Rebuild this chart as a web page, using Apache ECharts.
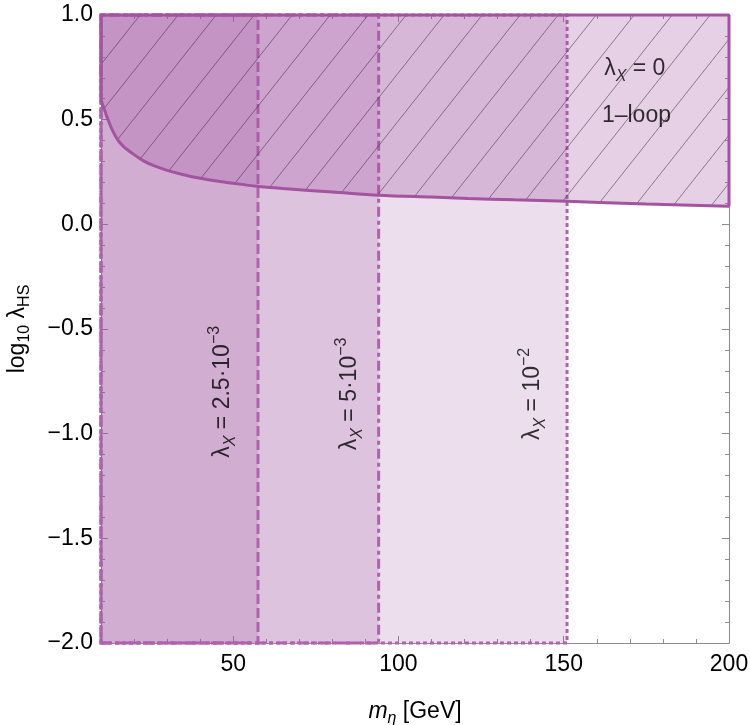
<!DOCTYPE html>
<html>
<head>
<meta charset="utf-8">
<script src="https://cdn.jsdelivr.net/npm/echarts@6.0.0/dist/echarts.min.js"></script>
<style>
    html, body { margin: 0; padding: 0; background: #fff; }
    #chart { width: 750px; height: 725px; }
</style>
</head>
<body>
<div id="chart"></div>
<script>
// 轴范围与刻度
const xRange = [10, 200]
const yRange = [-2, 1]
const xMajorTicks = [50, 100, 150, 200]
const xMinorTicks = [20, 30, 40, 60, 70, 80, 90, 110, 120, 130, 140, 160, 170, 180, 190]

// 1-loop 边界曲线 (m_eta, log10 lambda_HS)
const curveX = [10, 10.5, 11, 11.5, 12, 13, 14, 15, 16, 17, 18, 20, 23, 26, 30, 35, 40, 45, 50, 57, 65, 73, 80, 94, 110, 121, 135, 151, 175, 200]
const curveY = [0.595, 0.572, 0.55, 0.527, 0.505, 0.465, 0.432, 0.405, 0.385, 0.369, 0.356, 0.333, 0.302, 0.28, 0.258, 0.237, 0.22, 0.207, 0.196, 0.182, 0.171, 0.162, 0.155, 0.139, 0.13, 0.124, 0.117, 0.11, 0.097, 0.086]

// 竖直区域的右边界
const bandEdges = [151, 94, 57.5]

// 文字标注位置
const bandLabelX = [46.7, 85.2, 140.6]
const bandLabelY = [-0.8, -0.81, -0.81]
const bandLabelText = ['2.5·10{sup|−3}', '5·10{sup|−3}', '10{sup|−2}']
const loopLabels = [[171.5, 0.745, '{t|λ}{sub|X}{t| = 0}'], [172, 0.52, '{t|1–loop}']]

const font = 'Liberation Sans, Arial, Helvetica, sans-serif'
const purple = 'rgba(160, 80, 160, 0.19)'
const lineColor = '#b062ae'
const curveColor = '#a3539f'
const frameColor = '#8c8c8c'

// 斜线填充图案
function makeHatch () {
    const w = 38
    const h = 48
    const c = document.createElement('canvas')
    c.width = w
    c.height = h
    const ctx = c.getContext('2d')
    ctx.fillStyle = 'rgba(160, 80, 160, 0.27)'
    ctx.fillRect(0, 0, w, h)
    ctx.strokeStyle = 'rgba(60, 35, 60, 0.65)'
    ctx.lineWidth = 0.8
    for (let k = -1; k <= 1; k++) {
        ctx.beginPath()
        ctx.moveTo(k * w, h)
        ctx.lineTo(k * w + w, 0)
        ctx.stroke()
    }
    return c
}

const chart = echarts.init(document.getElementById('chart'), null, { renderer: 'canvas' })

const richBase = {
    t: { fontSize: 23, fontFamily: font, color: '#000', lineHeight: 32 },
    sub: { fontSize: 16, fontFamily: font, fontStyle: 'italic', color: '#000', verticalAlign: 'bottom', lineHeight: 15 },
    sup: { fontSize: 16, fontFamily: font, color: '#000', verticalAlign: 'top', lineHeight: 15 }
}

function xAxisOf (position, ticks, len, showLabel) {
    return {
        type: 'value',
        position: position,
        min: xRange[0],
        max: xRange[1],
        axisLine: { show: true, onZero: false, lineStyle: { color: frameColor, width: 1 } },
        axisTick: { show: true, inside: true, length: len, customValues: ticks, lineStyle: { color: frameColor } },
        axisLabel: showLabel ? {
            show: true, customValues: ticks, margin: 10,
            fontSize: 23, fontFamily: font, color: '#000'
        } : { show: false },
        splitLine: { show: false },
        name: showLabel ? '{i|m}{s|η}{t| [GeV]}' : '',
        nameLocation: 'middle',
        nameGap: 54,
        nameTextStyle: {
            rich: {
                i: { fontSize: 23, fontFamily: font, fontStyle: 'italic', color: '#000', lineHeight: 30 },
                t: { fontSize: 23, fontFamily: font, color: '#000', lineHeight: 30 },
                s: { fontSize: 16, fontFamily: font, fontStyle: 'italic', color: '#000', verticalAlign: 'bottom', lineHeight: 15 }
            }
        }
    }
}

function yAxisOf (position, showLabel) {
    return {
        type: 'value',
        position: position,
        min: yRange[0],
        max: yRange[1],
        interval: 0.5,
        axisLine: { show: true, onZero: false, lineStyle: { color: frameColor, width: 1 } },
        axisTick: { show: true, inside: true, length: 7, lineStyle: { color: frameColor } },
        minorTick: { show: true, splitNumber: 5, length: 4, lineStyle: { color: frameColor } },
        axisLabel: showLabel ? {
            show: true, margin: 8, fontSize: 23, fontFamily: font, color: '#000',
            formatter: (v) => (v < 0 ? '−' : '') + Math.abs(v).toFixed(1)
        } : { show: false },
        splitLine: { show: false },
        name: showLabel ? '{t|log}{s|10}{t| λ}{s|HS}' : '',
        nameLocation: 'middle',
        nameRotate: 90,
        nameGap: 68,
        nameTextStyle: {
            rich: {
                t: { fontSize: 23, fontFamily: font, color: '#000', lineHeight: 30 },
                s: { fontSize: 16, fontFamily: font, color: '#000', verticalAlign: 'bottom', lineHeight: 15 }
            }
        }
    }
}

const curveData = curveX.map((x, i) => [x, curveY[i]])
const outline = [
    [xRange[1], curveY[curveY.length - 1]],
    [xRange[1], yRange[1]],
    [xRange[0], yRange[1]],
    [xRange[0], curveY[0]]
]

const bandStyles = [
    { borderType: [4, 3] },
    { borderType: [10, 4, 4, 4] },
    { borderType: [10, 4] }
]

const option = {
    animation: false,
    grid: { left: 101, right: 21, top: 15, bottom: 82, containLabel: false, outerBoundsMode: 'none' },
    xAxis: [
        xAxisOf('bottom', xMajorTicks, 7, true),
        xAxisOf('bottom', xMinorTicks, 4, false),
        xAxisOf('top', xMajorTicks, 7, false),
        xAxisOf('top', xMinorTicks, 4, false)
    ],
    yAxis: [
        yAxisOf('left', true),
        yAxisOf('right', false)
    ],
    series: [
        {
            // 三个竖直区域
            type: 'line',
            data: [],
            silent: true,
            z: 1,
            markArea: {
                silent: true,
                data: bandEdges.map((e, i) => [
                    {
                        xAxis: xRange[0], yAxis: yRange[0],
                        itemStyle: {
                            color: purple,
                            borderColor: lineColor,
                            borderWidth: 3,
                            borderType: bandStyles[i].borderType
                        }
                    },
                    { xAxis: e, yAxis: yRange[1] }
                ])
            }
        },
        {
            // 1-loop 区域
            type: 'line',
            data: curveData,
            showSymbol: false,
            smooth: 0.3,
            silent: true,
            z: 3,
            lineStyle: { color: curveColor, width: 3 },
            areaStyle: { origin: 'end', color: { image: makeHatch(), repeat: 'repeat' }, opacity: 1 }
        },
        {
            type: 'line',
            data: outline,
            showSymbol: false,
            silent: true,
            clip: false,
            z: 4,
            lineStyle: { color: curveColor, width: 3 }
        },
        {
            // 竖排标注
            type: 'scatter',
            symbolSize: 0,
            silent: true,
            z: 5,
            data: bandLabelX.map((x, i) => ({ value: [x, bandLabelY[i]], name: bandLabelText[i] })),
            label: {
                show: true,
                position: 'inside',
                rotate: 90,
                formatter: (p) => '{t|λ}{sub|X}{t| = ' + p.name.replace('{sup|', '}{sup|'),
                rich: richBase
            }
        },
        {
            type: 'scatter',
            symbolSize: 0,
            silent: true,
            z: 5,
            data: loopLabels.map((d) => ({ value: [d[0], d[1]], name: d[2] })),
            label: {
                show: true,
                position: 'inside',
                formatter: (p) => p.name,
                rich: richBase
            }
        }
    ]
}

chart.setOption(option)
</script>
</body>
</html>
